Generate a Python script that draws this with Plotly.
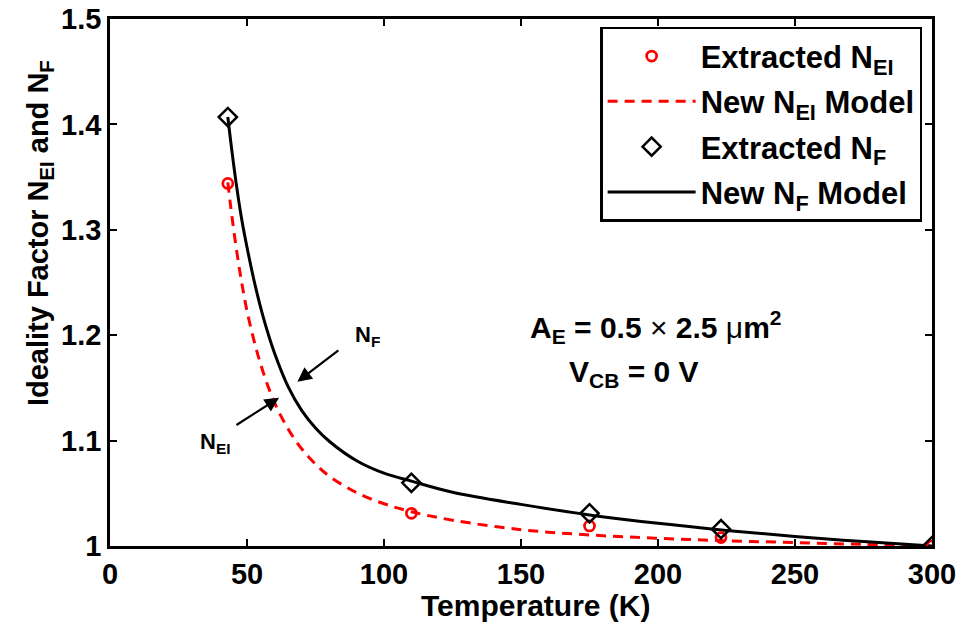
import plotly.graph_objects as go

# Measured ideality factors
temp_meas = [43, 110, 175, 223, 300]
n_ei_meas = [1.344, 1.031, 1.019, 1.008, 1.000]
n_f_meas = [1.407, 1.060, 1.031, 1.016, 1.000]

# Model curves
temp_model = [43, 44, 46, 48, 50, 53, 56, 60, 65, 70, 75, 80, 90, 100, 110,
              125, 150, 175, 200, 225, 250, 275, 300]
n_ei_model = [1.345, 1.323, 1.284, 1.251, 1.223, 1.1905, 1.1642, 1.1363, 1.1111,
              1.092, 1.0777, 1.0663, 1.0506, 1.0401, 1.0325, 1.0245, 1.0155, 1.0105,
              1.0073, 1.0050, 1.0032, 1.0015, 1.000]
n_f_model = [1.407, 1.385, 1.345, 1.311, 1.2835, 1.247, 1.2165, 1.1834, 1.1513,
             1.1285, 1.112, 1.0994, 1.0809, 1.0691, 1.0616, 1.051, 1.0395, 1.0295,
             1.0215, 1.0148, 1.009, 1.0042, 1.000]

x_ticks = [0, 50, 100, 150, 200, 250, 300]
y_ticks = [1.0, 1.1, 1.2, 1.3, 1.4, 1.5]

FONT = "Liberation Sans, Arial, Helvetica, sans-serif"
RED = "#ff0000"
BOLD = dict(family=FONT, color="black", weight="bold")

fig = go.Figure()
fig.add_trace(go.Scatter(
    x=temp_model, y=n_ei_model, mode="lines", name="New N<sub>EI</sub> Model",
    line=dict(color=RED, width=3, dash="10px,7px", shape="spline", smoothing=1.0),
    legendrank=2, legendgroup="g2"))
fig.add_trace(go.Scatter(
    x=temp_model, y=n_f_model, mode="lines", name="New N<sub>F</sub> Model",
    line=dict(color="black", width=3, shape="spline", smoothing=1.0),
    legendrank=4, legendgroup="g4"))
fig.add_trace(go.Scatter(
    x=temp_meas, y=n_ei_meas, mode="markers", name="Extracted N<sub>EI</sub>",
    marker=dict(symbol="circle-open", size=10, color=RED, line=dict(width=2.7, color=RED)),
    legendrank=1, legendgroup="g1"))
fig.add_trace(go.Scatter(
    x=temp_meas, y=n_f_meas, mode="markers", name="Extracted N<sub>F</sub>",
    marker=dict(symbol="diamond-open", size=14, color="black", line=dict(width=2.5, color="black")),
    legendrank=3, legendgroup="g3"))

axis_common = dict(
    showline=True, linecolor="black", linewidth=2.5, mirror="ticks",
    ticks="inside", ticklen=7, tickwidth=2, tickcolor="black",
    showgrid=False, zeroline=False, automargin=False,
    tickfont=dict(size=29, **BOLD),
)

fig.update_xaxes(range=[0, 300], tickvals=x_ticks, **axis_common)
fig.update_yaxes(range=[1.0, 1.5], tickvals=y_ticks,
                 ticktext=[f"{v:g}" for v in y_ticks], **axis_common)

# Axis titles
fig.add_annotation(xref="paper", yref="paper", x=0.518, y=-0.112,
                   text="Temperature (K)", showarrow=False,
                   xanchor="center", yanchor="middle", font=dict(size=30, **BOLD))
fig.add_annotation(xref="paper", yref="paper", x=-0.085, y=0.594,
                   text="Ideality Factor N<sub>EI</sub> and N<sub>F</sub>",
                   textangle=-90, showarrow=False,
                   xanchor="center", yanchor="middle", font=dict(size=29, **BOLD))

# Curve labels with arrows
fig.add_annotation(x=68.4, y=1.1559, ax=83.9, ay=1.1866, axref="x", ayref="y",
                   text="", showarrow=True, arrowhead=2, arrowsize=1.3,
                   arrowwidth=2.2, arrowcolor="black")
fig.add_annotation(x=61.7, y=1.1407, ax=45.6, ay=1.1139, axref="x", ayref="y",
                   text="", showarrow=True, arrowhead=2, arrowsize=1.3,
                   arrowwidth=2.2, arrowcolor="black")
fig.add_annotation(x=93.8, y=1.199, text="N<sub>F</sub>", showarrow=False,
                   font=dict(size=22, **BOLD))
fig.add_annotation(x=38.3, y=1.0977, text="N<sub>EI</sub>", showarrow=False,
                   font=dict(size=22, **BOLD))

# Device conditions
fig.add_annotation(x=199.3, y=1.2078,
                   text="A<sub>E</sub> = 0.5 <span style=\"font-weight:normal\">\u00d7</span> 2.5 "
                        "<span style=\"font-weight:normal\">\u03bc</span>m<sup>2</sup>",
                   showarrow=False, font=dict(size=30, **BOLD))
fig.add_annotation(x=191.2, y=1.164, text="V<sub>CB</sub> = 0 V", showarrow=False,
                   font=dict(size=30, **BOLD))

fig.update_layout(
    width=963, height=632,
    margin=dict(l=110, r=31, t=19, b=86),
    paper_bgcolor="white", plot_bgcolor="white",
    font=dict(family=FONT, color="black"),
    legend=dict(x=0.988, y=0.985, xanchor="right", yanchor="top",
                bgcolor="white", bordercolor="black", borderwidth=2.5,
                font=dict(size=31, **BOLD),
                tracegroupgap=2, itemwidth=88),
)

fig.write_html("out.html")
